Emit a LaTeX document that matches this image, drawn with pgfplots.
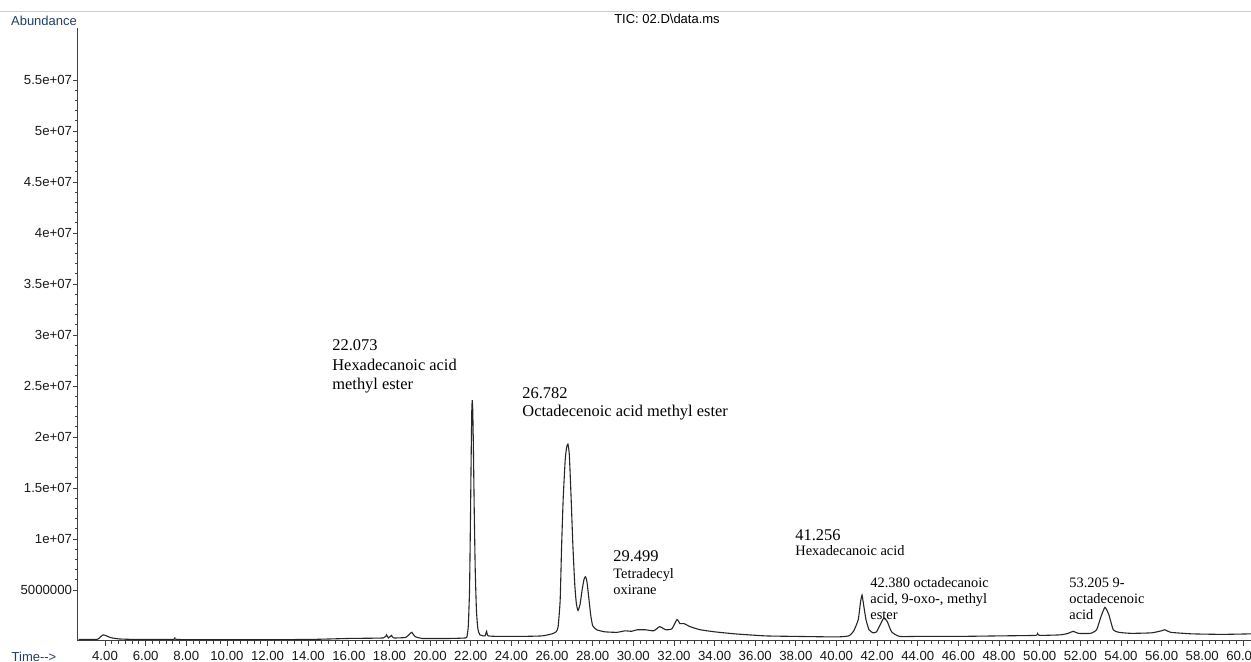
\documentclass[border=0pt]{standalone}
\usepackage{pgfplots}
\pgfplotsset{compat=1.18}
\usepackage{pgfplotstable}
\usepackage{fontspec}
\setmainfont{Liberation Serif}
\newfontfamily\arial{Liberation Sans}
\definecolor{lblue}{HTML}{1F3F66}
\definecolor{topline}{HTML}{C8CEC8}

\pgfplotstableread{
t y
2.70 1.5e5
3.60 1.5e5
3.75 3.5e5
3.90 6.0e5
4.05 5.2e5
4.30 3.2e5
4.70 2.0e5
5.50 1.5e5
6.80 1.5e5
7.38 1.5e5
7.45 3.5e5
7.55 1.5e5
10.00 1.2e5
14.00 1.5e5
16.00 2.5e5
17.70 3.0e5
17.85 6.0e5
17.95 3.0e5
18.10 5.5e5
18.20 3.0e5
18.80 3.5e5
19.00 7.0e5
19.10 8.5e5
19.25 4.5e5
19.60 2.5e5
21.00 2.5e5
21.75 3.0e5
21.82 5.0e5
21.88 1.5e6
21.94 5.0e6
21.98 1.1e7
22.02 1.8e7
22.05 2.25e7
22.073 2.36e7
22.10 2.25e7
22.13 1.9e7
22.17 1.3e7
22.22 7.0e6
22.28 3.0e6
22.35 1.2e6
22.45 6.0e5
22.70 5.0e5
22.78 9.5e5
22.86 5.0e5
23.50 4.5e5
24.50 4.5e5
25.50 5.0e5
26.00 7.0e5
26.20 9.0e5
26.30 1.4e6
26.40 4.0e6
26.47 9.2e6
26.55 1.4e7
26.65 1.78e7
26.72 1.9e7
26.782 1.93e7
26.85 1.83e7
26.93 1.45e7
27.03 9.2e6
27.12 5.5e6
27.20 3.6e6
27.28 3.0e6
27.38 3.6e6
27.48 5.0e6
27.58 6.1e6
27.65 6.3e6
27.72 5.8e6
27.80 4.4e6
27.90 2.6e6
28.00 1.5e6
28.20 1.1e6
28.60 9.0e5
29.20 8.5e5
29.60 1.0e6
29.90 9.5e5
30.20 1.1e6
30.60 1.1e6
31.00 1.0e6
31.30 1.4e6
31.60 1.1e6
31.90 1.2e6
32.15 2.1e6
32.30 1.7e6
32.50 1.7e6
32.80 1.4e6
33.30 1.1e6
34.00 9.0e5
35.00 7.0e5
36.50 5.0e5
38.00 4.5e5
40.00 4.0e5
40.60 5.0e5
40.85 1.0e6
41.07 2.1e6
41.18 3.8e6
41.256 4.5e6
41.33 3.6e6
41.45 2.1e6
41.60 1.1e6
41.80 8.0e5
41.97 9.0e5
42.15 1.6e6
42.33 2.25e6
42.50 1.9e6
42.71 9.0e5
43.10 4.5e5
44.00 4.5e5
46.00 4.5e5
48.00 5.0e5
49.80 5.5e5
49.90 7.0e5
50.00 5.5e5
51.00 6.0e5
51.40 7.5e5
51.65 9.5e5
51.90 7.5e5
52.50 7.5e5
52.80 1.1e6
53.00 2.3e6
53.21 3.3e6
53.40 2.6e6
53.62 1.1e6
53.90 8.5e5
54.50 7.5e5
55.50 8.0e5
56.00 1.0e6
56.16 1.1e6
56.45 8.5e5
57.50 7.0e5
59.00 6.5e5
60.40 7.0e5
}\tic

\newcommand{\fbig}{\fontsize{8.2}{9}\selectfont}
\newcommand{\fsml}{\fontsize{7.2}{8}\selectfont}

\begin{document}
\begin{tikzpicture}
\useasboundingbox (0,0) rectangle (625.5pt,331pt);
\draw[topline, line width=0.5pt] (0,325pt) -- (625.5pt,325pt);
\begin{axis}[
  at={(39pt,10.5pt)}, anchor=south west,
  scale only axis, width=586.5pt, height=306.5pt,
  xmin=2.671, xmax=60.4, ymin=0, ymax=6.01e7,
  scaled y ticks=false, scaled x ticks=false,
  axis x line*=bottom, axis y line*=left,
  axis line style={-, black!75, line width=0.5pt},
  tick align=outside,
  tick style={black!75, line width=0.4pt},
  major tick length=2.5pt, minor tick length=1.5pt,
  xtick={4,6,...,60},
  xticklabels={4.00,6.00,8.00,10.00,12.00,14.00,16.00,18.00,20.00,22.00,24.00,26.00,28.00,30.00,32.00,34.00,36.00,38.00,40.00,42.00,44.00,46.00,48.00,50.00,52.00,54.00,56.00,58.00,60.00},
  minor x tick num=5,
  ytick={5e6,1e7,1.5e7,2e7,2.5e7,3e7,3.5e7,4e7,4.5e7,5e7,5.5e7},
  yticklabels={5000000,1e+07,1.5e+07,2e+07,2.5e+07,3e+07,3.5e+07,4e+07,4.5e+07,5e+07,5.5e+07},
  minor y tick num=4,
  ticklabel style={font=\arial\fontsize{6.6}{7}\selectfont, text=black!90},
  xticklabel style={inner sep=1pt, yshift=-1.2pt},
  yticklabel style={inner sep=0.3pt},
  clip=false,
]
\addplot[black!85, line width=0.55pt, smooth, tension=0.3] table[x=t, y=y] {\tic};
\end{axis}
\node[font=\arial\fontsize{6.5}{7}\selectfont, text=lblue] at (22pt,320.5pt) {Abundance};
\node[font=\arial\fontsize{6.5}{7}\selectfont, text=lblue] at (17pt,2.5pt) {Time-->};
\node[font=\arial\fontsize{6.5}{7}\selectfont] at (333.5pt,321.5pt) {TIC: 02.D\textbackslash data.ms};
\begin{scope}[x=0.5pt, y=-0.5pt, yshift=331pt]
\tikzset{lab/.style={anchor=base west, inner sep=0pt}}
\node[lab] at (332,351) {\fbig 22.073};
\node[lab] at (332,371) {\fbig Hexadecanoic acid};
\node[lab] at (332,390) {\fbig methyl ester};
\node[lab] at (522,399) {\fbig 26.782};
\node[lab] at (522,417) {\fbig Octadecenoic acid methyl ester};
\node[lab] at (613,562) {\fbig 29.499};
\node[lab] at (613,579) {\fsml Tetradecyl};
\node[lab] at (613,595) {\fsml oxirane};
\node[lab] at (795,541) {\fbig 41.256};
\node[lab] at (795,556) {\fsml Hexadecanoic acid};
\node[lab] at (870,588) {\fsml 42.380 octadecanoic};
\node[lab] at (870,604) {\fsml acid, 9-oxo-, methyl};
\node[lab] at (870,620) {\fsml ester};
\node[lab] at (1069,588) {\fsml 53.205 9-};
\node[lab] at (1069,604) {\fsml octadecenoic};
\node[lab] at (1069,620) {\fsml acid};
\end{scope}
\end{tikzpicture}
\end{document}
